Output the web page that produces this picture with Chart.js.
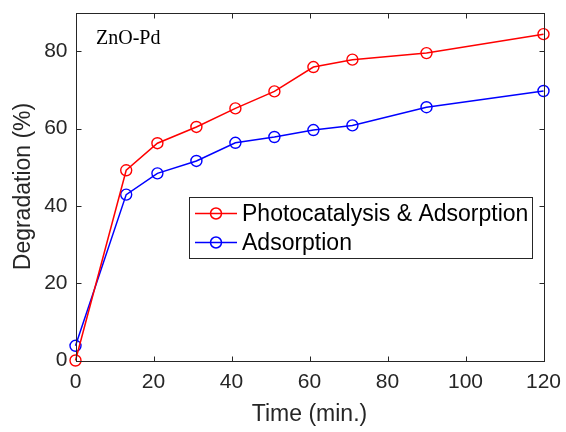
<!DOCTYPE html>
<html>
<head>
<meta charset="utf-8">
<script src="https://cdn.jsdelivr.net/npm/chart.js@4.4.1/dist/chart.umd.min.js"></script>
<style>
  html, body { margin: 0; padding: 0; background: #fff; }
  #wrap { width: 566px; height: 432px; }
</style>
</head>
<body>
<div id="wrap"><canvas id="c" width="566" height="432"></canvas></div>
<script>
// Data
const times = [0, 13, 21, 31, 41, 51, 61, 71, 90, 120];
const photoAds = [0, 49.2, 56.2, 60.4, 65.2, 69.6, 75.9, 77.8, 79.5, 84.4];
const adsorption = [3.8, 42.9, 48.4, 51.6, 56.3, 57.8, 59.6, 60.8, 65.5, 69.7];
const xTicks = [0, 20, 40, 60, 80, 100, 120];
const yTicks = [0, 20, 40, 60, 80];

const AXIS = '#262626';
const FONT = 'Arial, "Liberation Sans", Helvetica, sans-serif';

const toPoints = ys => times.map((t, i) => ({ x: t, y: ys[i] }));

/* ── box, inward ticks, sample label and legend ── */
const framePlugin = {
  id: 'frame',
  afterDraw(chart) {
    const { ctx, chartArea: a, scales } = chart;
    const L = Math.round(a.left) + 0.5, R = Math.round(a.right) + 0.5;
    const T = Math.round(a.top) + 0.5, B = Math.round(a.bottom) + 0.5;
    const len = 5;

    ctx.save();
    ctx.strokeStyle = AXIS;
    ctx.lineWidth = 1;
    ctx.strokeRect(L, T, R - L, B - T);

    ctx.beginPath();
    xTicks.forEach(v => {
      const px = Math.round(scales.x.getPixelForValue(v)) + 0.5;
      ctx.moveTo(px, B); ctx.lineTo(px, B - len);
      ctx.moveTo(px, T); ctx.lineTo(px, T + len);
    });
    yTicks.forEach(v => {
      const py = Math.round(scales.y.getPixelForValue(v)) + 0.5;
      ctx.moveTo(L, py); ctx.lineTo(L + len, py);
      ctx.moveTo(R, py); ctx.lineTo(R - len, py);
    });
    ctx.stroke();

    // sample label
    ctx.fillStyle = '#000';
    ctx.font = '20px "Times New Roman", "Liberation Serif", serif';
    ctx.textBaseline = 'alphabetic';
    ctx.fillText('ZnO-Pd', 96, 44);

    // legend
    const bx = 189.5, by = 197.5, bw = 343, bh = 61;
    ctx.fillStyle = '#fff';
    ctx.fillRect(bx, by, bw, bh);
    ctx.strokeStyle = AXIS;
    ctx.strokeRect(bx, by, bw, bh);

    ctx.font = '23px ' + FONT;
    ctx.textBaseline = 'middle';
    chart.data.datasets.forEach((ds, i) => {
      const yy = 213.5 + i * 29;
      ctx.strokeStyle = ds.borderColor;
      ctx.lineWidth = 1.5;
      ctx.beginPath();
      ctx.moveTo(195, yy); ctx.lineTo(237, yy);
      ctx.stroke();
      ctx.beginPath();
      ctx.arc(216, yy, 5.5, 0, Math.PI * 2);
      ctx.stroke();
      ctx.fillStyle = '#000';
      ctx.fillText(ds.label, 242, yy + 1);
    });
    ctx.restore();
  }
};

new Chart(document.getElementById('c'), {
  type: 'line',
  data: {
    datasets: [
      {
        label: 'Photocatalysis & Adsorption',
        data: toPoints(photoAds),
        borderColor: '#ff0000',
        backgroundColor: 'rgba(0,0,0,0)',
        pointBorderColor: '#ff0000',
        pointBackgroundColor: 'rgba(0,0,0,0)',
        borderWidth: 1.5,
        pointRadius: 5.5,
        pointBorderWidth: 1.4,
        tension: 0,
        clip: false
      },
      {
        label: 'Adsorption',
        data: toPoints(adsorption),
        borderColor: '#0000ff',
        backgroundColor: 'rgba(0,0,0,0)',
        pointBorderColor: '#0000ff',
        pointBackgroundColor: 'rgba(0,0,0,0)',
        borderWidth: 1.5,
        pointRadius: 5.5,
        pointBorderWidth: 1.4,
        tension: 0,
        clip: false
      }
    ]
  },
  options: {
    responsive: false,
    animation: false,
    layout: { padding: { top: 12.5, right: 22.5, bottom: 0, left: 0 } },
    plugins: { legend: { display: false }, tooltip: { enabled: false } },
    scales: {
      x: {
        type: 'linear',
        min: 0,
        max: 120,
        afterBuildTicks: s => { s.ticks = xTicks.map(v => ({ value: v })); },
        afterFit: s => { s.height = 71.5; s.paddingLeft = 0; s.paddingRight = 0; },
        grid: { display: false, drawTicks: false },
        border: { display: false },
        ticks: { color: AXIS, font: { family: FONT, size: 21 }, padding: 9, maxRotation: 0 },
        title: {
          display: true,
          text: 'Time (min.)',
          color: AXIS,
          font: { family: FONT, size: 23 },
          padding: { top: 0, bottom: 4 }
        }
      },
      y: {
        min: 0,
        max: 90,
        afterBuildTicks: s => { s.ticks = yTicks.map(v => ({ value: v })); },
        afterFit: s => { s.width = 75.5; s.paddingTop = 0; s.paddingBottom = 0; },
        grid: { display: false, drawTicks: false },
        border: { display: false },
        ticks: { color: AXIS, font: { family: FONT, size: 21 }, padding: 8 },
        title: {
          display: true,
          text: 'Degradation (%)',
          color: AXIS,
          font: { family: FONT, size: 23 },
          padding: { top: 10, bottom: 0 }
        }
      }
    }
  },
  plugins: [framePlugin]
});
</script>
</body>
</html>
